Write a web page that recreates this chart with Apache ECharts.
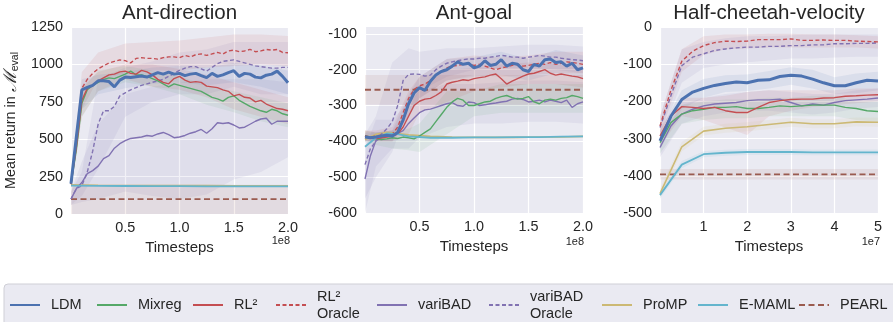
<!DOCTYPE html>
<html><head><meta charset="utf-8">
<script src="https://cdn.jsdelivr.net/npm/echarts@6/dist/echarts.min.js"></script>
<style>html,body{margin:0;padding:0;background:#fff}#c{width:893px;height:322px}</style>
</head><body><div id="c"></div><script>
// ---------- data ----------
const titles = ['Ant-direction', 'Ant-goal', 'Half-cheetah-velocity'];
const legendNames = ['LDM','Mixreg','RL²','RL² Oracle','variBAD','variBAD Oracle','ProMP','E-MAML','PEARL'];

// Ant-direction (x in 1e8)
const adX = [0,0.05,0.1,0.15,0.2,0.25,0.3,0.35,0.4,0.45,0.5,0.55,0.6,0.65,0.7,0.75,0.8,0.85,0.9,0.95,1.0,1.05,1.1,1.15,1.2,1.25,1.3,1.35,1.4,1.45,1.5,1.55,1.6,1.65,1.7,1.75,1.8,1.85,1.9,1.95,2.0];
const adLDM = [203,520,830,846,860,890,890,885,850,895,915,912,918,922,915,930,945,935,948,935,940,925,935,940,925,912,940,920,930,945,958,920,940,935,915,910,928,935,955,920,877];
const adMixreg = [200,430,740,830,860,880,900,910,905,920,935,955,930,930,920,905,890,870,850,870,860,850,840,830,820,800,780,770,755,780,790,760,740,720,705,690,680,700,690,670,660];
const adRL2 = [200,450,760,840,860,890,910,930,935,950,955,940,935,960,950,930,900,880,870,905,920,895,880,885,880,855,850,845,830,820,790,800,780,775,750,760,735,720,705,700,690];
const adRL2O = [200,500,840,900,940,970,990,1010,1020,1030,1025,1010,1040,1045,1040,1040,1035,1045,1050,1050,1045,1060,1050,1065,1070,1060,1070,1080,1070,1090,1095,1085,1090,1100,1085,1090,1100,1095,1100,1080,1078];
const adVB = [100,170,210,270,290,320,370,390,440,470,490,505,510,515,525,520,535,545,530,510,515,525,540,550,565,540,570,610,605,610,595,575,580,600,620,635,640,600,620,620,620];
const adVBO = [100,170,190,280,420,600,690,690,720,790,810,830,845,860,870,880,890,900,920,940,960,975,985,985,970,955,980,1005,1020,1025,1030,1020,1010,1000,990,985,980,975,975,980,980];
const adXC = [0,0.25,0.5,0.75,1.0,1.25,1.5,1.75,2.0];
const adProMP = [195,192,190,190,190,190,189,189,189];
const adEMAML = [190,188,187,186,186,185,185,185,185];
const adPearlX = [0,2.0];
const adPearl = [100,100];
const adXB = [0,0.1,0.25,0.5,0.75,1.0,1.25,1.5,1.75,2.0];
const adVBLo = [60,80,100,150,120,100,130,230,280,380];
const adVBHi = [150,350,600,800,850,880,900,900,900,880];
const adVBOLo = [60,120,300,650,750,800,800,850,800,800];
const adVBOHi = [150,280,900,980,1020,1080,1100,1150,1150,1150];
const adRL2OLo = [180,700,900,940,960,960,980,990,1000,990];
const adRL2OHi = [230,950,1080,1140,1150,1160,1180,1200,1200,1190];
const adLDMLo = [180,700,800,840,870,880,860,880,850,800];
const adLDMHi = [230,900,930,950,980,990,980,1010,990,960];
const adRL2Lo = [180,650,820,900,850,830,780,700,650,600];
const adRL2Hi = [230,850,950,1000,1000,970,930,880,830,780];
const adMixLo = [180,650,820,880,850,800,730,680,620,580];
const adMixHi = [230,830,960,990,960,920,860,820,780,740];
const adPearlLo = [0,0];
const adPearlHi = [195,195];

// Ant-goal (x in 1e8)
const agX = adX;
const agLDM = [-388,-390,-388,-385,-383,-385,-375,-340,-295,-265,-250,-258,-232,-215,-205,-200,-190,-178,-185,-182,-195,-190,-175,-188,-185,-172,-190,-182,-185,-200,-205,-185,-190,-172,-170,-180,-178,-190,-182,-200,-195];
const agMixreg = [-385,-388,-392,-395,-393,-390,-392,-388,-390,-393,-385,-375,-365,-345,-325,-305,-290,-280,-285,-300,-300,-295,-290,-288,-280,-275,-272,-278,-282,-280,-275,-290,-295,-285,-282,-285,-280,-278,-272,-275,-280];
const agRL2 = [-385,-390,-392,-390,-388,-385,-380,-360,-330,-300,-288,-282,-280,-272,-262,-240,-235,-232,-228,-230,-225,-222,-220,-215,-212,-225,-240,-232,-225,-218,-212,-210,-205,-200,-210,-215,-212,-215,-218,-220,-225];
const agRL2O = [-385,-388,-385,-383,-382,-380,-360,-320,-280,-255,-245,-240,-230,-215,-205,-195,-190,-188,-185,-185,-188,-185,-190,-195,-200,-195,-192,-188,-185,-190,-188,-185,-182,-185,-180,-185,-182,-178,-180,-182,-185];
const agVB = [-505,-440,-398,-390,-385,-380,-378,-370,-350,-335,-320,-312,-310,-305,-300,-295,-292,-300,-302,-290,-292,-300,-298,-295,-293,-290,-288,-282,-280,-283,-290,-288,-285,-290,-285,-288,-292,-285,-305,-295,-290];
const agVBO = [-465,-420,-400,-380,-365,-345,-300,-230,-213,-212,-213,-218,-215,-200,-190,-182,-178,-175,-172,-170,-170,-168,-168,-165,-163,-160,-162,-165,-165,-168,-165,-163,-160,-162,-165,-165,-168,-170,-172,-173,-175];
const agXC = [0,0.1,0.2,0.3,0.4,0.6,0.8,1.0,1.2,1.4,1.6,1.8,2.0];
const agProMP = [-395,-380,-375,-378,-382,-386,-388,-389,-389,-389,-388,-388,-386];
const agEMAML = [-415,-390,-378,-380,-386,-390,-390,-389,-389,-388,-388,-387,-386];
const agPearlX = [0,2.0];
const agPearl = [-256,-256];
const agXB = [0,0.1,0.25,0.4,0.5,0.75,1.0,1.25,1.5,1.75,2.0];
const agVBOLo = [-560,-500,-430,-300,-260,-220,-200,-195,-195,-200,-210];
const agVBOHi = [-380,-330,-180,-140,-150,-140,-140,-135,-130,-130,-135];
const agVBLo = [-600,-470,-420,-420,-390,-360,-350,-350,-345,-345,-350];
const agVBHi = [-420,-340,-340,-290,-260,-240,-240,-235,-230,-230,-235];
const agMixLo = [-400,-410,-420,-425,-430,-380,-330,-320,-320,-320,-320];
const agMixHi = [-370,-375,-370,-365,-350,-260,-260,-240,-240,-240,-240];
const agLDMLo = [-400,-400,-400,-330,-280,-230,-220,-215,-230,-210,-225];
const agLDMHi = [-375,-375,-370,-270,-220,-170,-165,-150,-170,-145,-160];
const agRL2OLo = [-400,-400,-400,-330,-280,-230,-215,-220,-215,-210,-210];
const agRL2OHi = [-370,-370,-360,-260,-220,-170,-160,-165,-160,-150,-150];
const agRL2Lo = [-400,-400,-400,-380,-320,-290,-260,-250,-240,-240,-250];
const agRL2Hi = [-370,-375,-370,-310,-250,-200,-195,-185,-180,-185,-195];
const agPearlLo = [-298,-298];
const agPearlHi = [-215,-215];

// Half-cheetah-velocity (x in 1e7)
const hcX = [0,0.25,0.5,0.75,1,1.25,1.5,1.75,2,2.25,2.5,2.75,3,3.25,3.5,3.75,4,4.25,4.5,4.75,5];
const hcLDM = [-306,-240,-195,-175,-165,-157,-152,-148,-150,-143,-142,-133,-130,-132,-140,-150,-158,-158,-150,-143,-145];
const hcRL2O = [-266,-170,-92,-65,-50,-42,-38,-39,-38,-34,-34,-34,-32,-36,-36,-35,-36,-36,-38,-39,-40];
const hcVBO = [-270,-185,-104,-81,-72,-63,-59,-56,-54,-54,-52,-52,-50,-50,-48,-48,-45,-45,-44,-44,-43];
const hcRL2 = [-293,-239,-214,-216,-219,-216,-225,-230,-230,-216,-203,-198,-195,-194,-194,-191,-190,-186,-185,-183,-182];
const hcVB = [-324,-266,-234,-221,-212,-207,-205,-203,-198,-196,-196,-194,-203,-212,-207,-210,-203,-198,-196,-194,-191];
const hcMixreg = [-311,-257,-234,-225,-221,-216,-216,-214,-219,-219,-216,-212,-214,-212,-210,-210,-210,-216,-219,-225,-227];
const hcXC = [0,0.5,1,1.5,2,2.5,3,3.5,4,4.5,5];
const hcProMP = [-448,-322,-280,-272,-268,-262,-256,-260,-260,-255,-256];
const hcEMAML = [-452,-370,-342,-338,-336,-336,-336,-337,-337,-337,-337];
const hcPearlX = [0,5];
const hcPearl = [-396,-396];
const hcRL2OLo = [-290,-120,-75,-60,-58,-55,-55,-55,-55,-55,-58];
const hcRL2OHi = [-240,-60,-25,-20,-20,-18,-18,-20,-20,-22,-25];
const hcVBOLo = [-300,-150,-110,-100,-95,-90,-85,-85,-82,-80,-80];
const hcVBOHi = [-240,-60,-40,-30,-25,-25,-22,-20,-20,-20,-20];
const hcLDMLo = [-330,-220,-190,-175,-172,-165,-155,-165,-180,-178,-170];
const hcLDMHi = [-280,-170,-140,-130,-128,-118,-108,-115,-135,-125,-120];
const hcRL2Lo = [-320,-240,-250,-270,-290,-240,-225,-215,-210,-205,-200];
const hcRL2Hi = [-270,-190,-190,-185,-175,-170,-170,-170,-170,-165,-165];
const hcMixLo = [-340,-260,-250,-245,-245,-240,-240,-240,-240,-250,-255];
const hcMixHi = [-290,-210,-200,-195,-195,-190,-190,-185,-185,-200,-200];
const hcVBLo = [-350,-260,-240,-230,-225,-225,-230,-235,-230,-220,-215];
const hcVBHi = [-300,-210,-190,-180,-175,-170,-175,-180,-180,-170,-165];
const hcProMPLo = [-460,-335,-292,-284,-280,-274,-268,-272,-272,-267,-268];
const hcProMPHi = [-436,-309,-268,-260,-256,-250,-244,-248,-248,-243,-244];
const hcEMAMLLo = [-462,-380,-350,-346,-344,-344,-344,-345,-345,-345,-345];
const hcEMAMLHi = [-442,-360,-334,-330,-328,-328,-328,-329,-329,-329,-329];
const hcPearlLo = [-410,-410];
const hcPearlHi = [-382,-382];

// ---------- styles ----------
const FONT = "'Liberation Sans', Arial, sans-serif";
const TXT = '#262626';
const C = {LDM:'#4c72b0', Mixreg:'#55a868', RL2:'#c44e52', VB:'#8172b2', ProMP:'#ccb974', EMAML:'#64b5cd', PEARL:'#9a5b4f'};
const style = {
  'LDM': {c:C.LDM, w:3, t:'solid', z:5},
  'Mixreg': {c:C.Mixreg, w:1.4, t:'solid', z:3},
  'RL²': {c:C.RL2, w:1.4, t:'solid', z:3},
  'RL² Oracle': {c:C.RL2, w:1.4, t:[4,2.5], z:3},
  'variBAD': {c:C.VB, w:1.4, t:'solid', z:3},
  'variBAD Oracle': {c:C.VB, w:1.4, t:[4,2.5], z:3},
  'ProMP': {c:C.ProMP, w:1.6, t:'solid', z:3},
  'E-MAML': {c:C.EMAML, w:1.8, t:'solid', z:4},
  'PEARL': {c:C.PEARL, w:1.8, t:[6,3.5], z:3}
};
function line(name, xs, ys, gi) {
  const s = style[name];
  return {type:'line', name, xAxisIndex:gi, yAxisIndex:gi, data: xs.map((x,i)=>[x, ys[i]]),
    symbol:'none', showSymbol:false, silent:true, animation:false, z:s.z,
    lineStyle:{color:s.c, width:s.w, type:s.t}, itemStyle:{color:s.c}};
}
function band(xs, lo, hi, color, gi, op) {
  return {type:'custom', xAxisIndex:gi, yAxisIndex:gi, silent:true, animation:false, z:1, clip:true,
    data: xs.map((x,i)=>[x, lo[i], hi[i]]), encode:{x:0, y:[1,2]},
    renderItem:(params, api) => {
      if (params.dataIndex !== 0) return null;
      const pts = [];
      for (let i=0;i<xs.length;i++) pts.push(api.coord([xs[i], hi[i]]));
      for (let i=xs.length-1;i>=0;i--) pts.push(api.coord([xs[i], lo[i]]));
      return {type:'polygon', shape:{points:pts}, style:{fill:color, opacity:op||0.1}};
    }};
}

const grids = [
  {left:71, top:27, width:217, height:187},
  {left:365, top:26, width:218, height:187},
  {left:660, top:27, width:218, height:186}
].map(g => Object.assign(g, {show:true, backgroundColor:'#eaeaf2', borderWidth:0}));

const gridLine = {show:true, lineStyle:{color:'#ffffff', width:1.2}};
const axLbl = {color:TXT, fontSize:14.4, fontFamily:FONT};
const xAxes = [
  {gridIndex:0, type:'value', min:0, max:2, interval:0.5, axisLabel:Object.assign({margin:7, showMinLabel:false, formatter:v=>v.toFixed(1)}, axLbl)},
  {gridIndex:1, type:'value', min:0, max:2, interval:0.5, axisLabel:Object.assign({margin:7, showMinLabel:false, formatter:v=>v.toFixed(1)}, axLbl)},
  {gridIndex:2, type:'value', min:0, max:5, interval:1, axisLabel:Object.assign({margin:7, showMinLabel:false, formatter:v=>String(v)}, axLbl)}
].map(a => Object.assign(a, {name:'Timesteps', nameLocation:'middle', nameGap:23,
  nameTextStyle:{color:TXT, fontSize:15, fontFamily:FONT},
  axisLine:{show:false}, axisTick:{show:false}, splitLine:gridLine}));
const yAxes = [
  {gridIndex:0, type:'value', min:0, max:1250, interval:250,
   name:'{a|Mean return in }{m|ℳ}{s|eval}', nameLocation:'middle', nameGap:50, nameRotate:90,
   nameTextStyle:{color:TXT, fontSize:14.4, fontFamily:FONT, rich:{
     a:{fontSize:14.4, fontFamily:FONT, color:TXT},
     m:{fontSize:18, fontFamily:"'DejaVu Serif', serif", fontStyle:'italic', color:TXT},
     s:{fontSize:10.5, fontFamily:FONT, color:TXT, padding:[9,0,0,0]}}}},
  {gridIndex:1, type:'value', min:-600, max:-78, interval:100},
  {gridIndex:2, type:'value', min:-500, max:0, interval:100}
].map(a => Object.assign(a, {axisLabel:Object.assign({margin:8, showMaxLabel: a.gridIndex===1 ? false : true, formatter:v=>String(v)}, axLbl),
  axisLine:{show:false}, axisTick:{show:false}, splitLine:gridLine}));

const series = [
  // bands
  band(adXB, adVBLo, adVBHi, C.VB, 0),
  band(adXB, adVBOLo, adVBOHi, C.VB, 0),
  band(adXB, adRL2OLo, adRL2OHi, C.RL2, 0),
  band(adXB, adRL2Lo, adRL2Hi, C.RL2, 0),
  band(adXB, adMixLo, adMixHi, C.Mixreg, 0),
  band(adXB, adLDMLo, adLDMHi, C.LDM, 0),
  band(adPearlX, adPearlLo, adPearlHi, C.PEARL, 0),
  band(agXB, agVBOLo, agVBOHi, C.VB, 1),
  band(agXB, agVBLo, agVBHi, C.VB, 1),
  band(agXB, agMixLo, agMixHi, C.Mixreg, 1),
  band(agXB, agRL2OLo, agRL2OHi, C.RL2, 1),
  band(agXB, agRL2Lo, agRL2Hi, C.RL2, 1),
  band(agXB, agLDMLo, agLDMHi, C.LDM, 1),
  band(agPearlX, agPearlLo, agPearlHi, C.PEARL, 1),
  band(hcXC, hcRL2OLo, hcRL2OHi, C.RL2, 2),
  band(hcXC, hcVBOLo, hcVBOHi, C.VB, 2),
  band(hcXC, hcLDMLo, hcLDMHi, C.LDM, 2),
  band(hcXC, hcRL2Lo, hcRL2Hi, C.RL2, 2),
  band(hcXC, hcMixLo, hcMixHi, C.Mixreg, 2),
  band(hcXC, hcVBLo, hcVBHi, C.VB, 2),
  band(hcXC, hcProMPLo, hcProMPHi, C.ProMP, 2),
  band(hcXC, hcEMAMLLo, hcEMAMLHi, C.EMAML, 2),
  band(hcPearlX, hcPearlLo, hcPearlHi, C.PEARL, 2),
  // lines: Ant-direction
  line('PEARL', adPearlX, adPearl, 0),
  line('ProMP', adXC, adProMP, 0),
  line('E-MAML', adXC, adEMAML, 0),
  line('variBAD Oracle', adX, adVBO, 0),
  line('variBAD', adX, adVB, 0),
  line('RL² Oracle', adX, adRL2O, 0),
  line('Mixreg', adX, adMixreg, 0),
  line('RL²', adX, adRL2, 0),
  line('LDM', adX, adLDM, 0),
  // Ant-goal
  line('PEARL', agPearlX, agPearl, 1),
  line('ProMP', agXC, agProMP, 1),
  line('E-MAML', agXC, agEMAML, 1),
  line('variBAD Oracle', agX, agVBO, 1),
  line('variBAD', agX, agVB, 1),
  line('RL² Oracle', agX, agRL2O, 1),
  line('Mixreg', agX, agMixreg, 1),
  line('RL²', agX, agRL2, 1),
  line('LDM', agX, agLDM, 1),
  // Half-cheetah
  line('PEARL', hcPearlX, hcPearl, 2),
  line('ProMP', hcXC, hcProMP, 2),
  line('E-MAML', hcXC, hcEMAML, 2),
  line('variBAD Oracle', hcX, hcVBO, 2),
  line('variBAD', hcX, hcVB, 2),
  line('RL² Oracle', hcX, hcRL2O, 2),
  line('Mixreg', hcX, hcMixreg, 2),
  line('RL²', hcX, hcRL2, 2),
  line('LDM', hcX, hcLDM, 2)
];

// legend: one component per entry, positioned like the reference
const legendLeft = [9, 96, 192, 275, 376, 488, 601, 697, 798];
const legends = legendNames.map((n, i) => {
  const two = n.indexOf('Oracle') >= 0;
  return {data:[n], left:legendLeft[i], top: two ? 288 : 296.5, padding:0, itemGap:0,
    itemWidth:30, itemHeight:14, selectedMode:false, itemStyle:{opacity:0},
    formatter: nm => nm.replace(' Oracle', '\nOracle'),
    textStyle:{color:TXT, fontSize:14.5, fontFamily:FONT, lineHeight:17, padding:[0,0,0,6]}};
});

const titleCenters = [179.5, 474, 769];
const graphics = [
  {type:'rect', z:-10, shape:{x:4, y:284, width:900, height:60, r:4}, style:{fill:'#eaeaf2', stroke:'#cfcfd6', lineWidth:1}},
  ...titles.map((t,i) => ({type:'text', x:titleCenters[i], y:13, style:{text:t, align:'center', verticalAlign:'middle', fontSize:20.5, fontFamily:FONT, fill:TXT}})),
  {type:'text', x:290, y:241, style:{text:'1e8', align:'right', verticalAlign:'middle', fontSize:11, fontFamily:FONT, fill:TXT}},
  {type:'text', x:584, y:242, style:{text:'1e8', align:'right', verticalAlign:'middle', fontSize:11, fontFamily:FONT, fill:TXT}},
  {type:'text', x:880, y:242, style:{text:'1e7', align:'right', verticalAlign:'middle', fontSize:11, fontFamily:FONT, fill:TXT}}
];

const chart = echarts.init(document.getElementById('c'), null, {renderer:'canvas'});
chart.setOption({
  animation:false,
  backgroundColor:'#ffffff',
  textStyle:{fontFamily:FONT},
  grid: grids, xAxis: xAxes, yAxis: yAxes,
  legend: legends,
  graphic: graphics,
  series
});
</script></body></html>
